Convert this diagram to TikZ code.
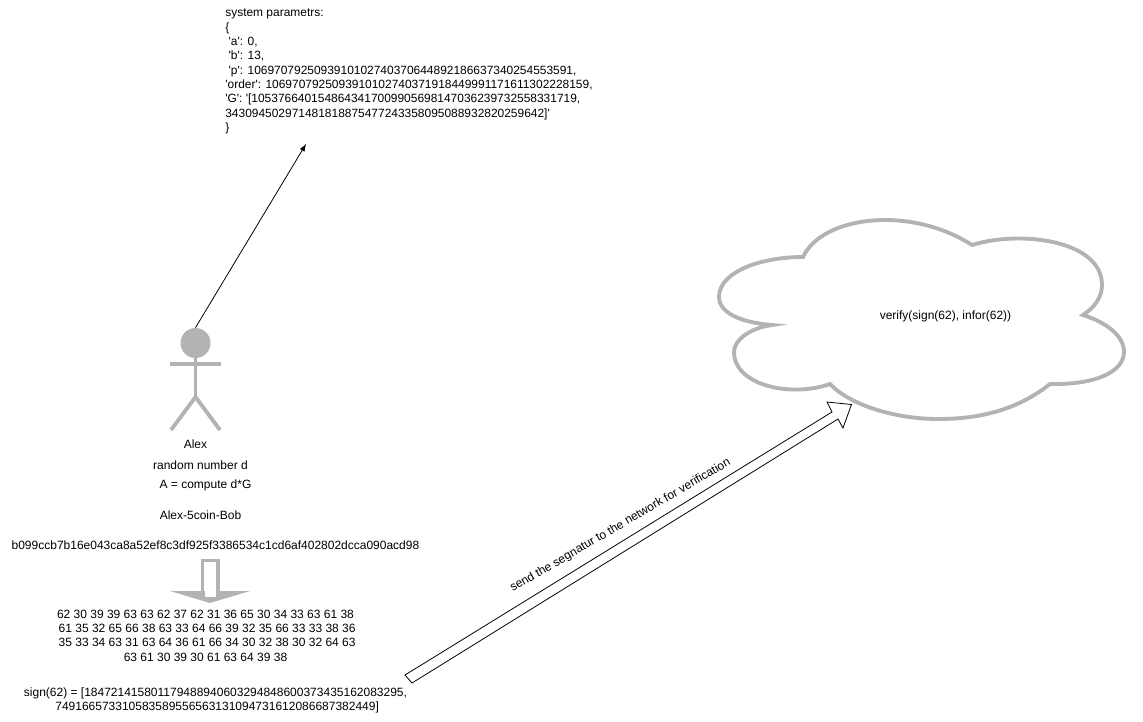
\documentclass[tikz,border=0pt]{standalone}
\usepackage{fontspec}
\setmainfont{Liberation Sans}
\usetikzlibrary{positioning,calc}
\definecolor{actorgray}{HTML}{B3B3B3}
\newcommand{\qt}{\textquotesingle}
\tikzset{
	label text/.style={inner sep=0pt, font=\fontsize{6.83}{8.15}\selectfont, align=center},
	left text/.style={label text, align=left, anchor=west, font=\fontsize{6.8}{8.15}\selectfont},
	actor line/.style={draw=actorgray, line width=2.2pt},
	thin arrow/.style={draw=black, line width=0.45pt, -latex},
	outline arrow/.style={draw=black, line width=0.45pt, fill=white, line join=miter}
}
\begin{document}
\begin{tikzpicture}[x=0.02cm,y=-0.02cm]
	\useasboundingbox (0,0) rectangle (1143,721);
	\node[left text] (params) at (225,71.5) {system parametrs:\\\{\\
		\ \qt a\qt: 0,\\
		\ \qt b\qt: 13,\\
		\ \qt p\qt: 1069707925093910102740370644892186637340254553591,\\
		\qt order\qt: 1069707925093910102740371918449991171611302228159,\\
		\qt G\qt: \qt[1053766401548643417009905698147036239732558331719,\\
		343094502971481818875477243358095088932820259642]\qt\\\}};
	\coordinate (paramsend) at (306,144);
	\node[circle, fill=actorgray, minimum size=0.6cm, inner sep=0pt] (head) at (195.5,343) {};
	\coordinate (armleft) at (170,364);
	\coordinate (armright) at (221,364);
	\coordinate (hip) at (195.5,397);
	\coordinate (footleft) at (171,430);
	\coordinate (footright) at (220,430);
	\draw[actor line] (head) -- (hip);
	\draw[actor line] (armleft) -- (armright);
	\draw[actor line] (footleft) -- (hip) -- (footright);
	\draw[thin arrow] (head.north) -- (paramsend);
	\node[label text] (alex) at (195.5,444) {Alex};
	\node[label text] (randomd) at (200.5,465) {random number d};
	\node[label text] (computea) at (205.5,485.5) {A = compute d*G};
	\node[label text] (message) at (200.5,515) {Alex-5coin-Bob};
	\node[label text] (hash) at (215.5,545) {b099ccb7b16e043ca8a52ef8c3df925f3386534c1cd6af402802dcca090acd98};
	\fill[actorgray] (170,591) -- (250,591) -- (210,603) -- cycle;
	\draw[actor line, fill=white] (202.5,591) -- (202.5,560.5) -- (218,560.5) -- (218,591);
	\fill[white] (204.5,589) rectangle (216,597);
	\node[label text] (hex) at (205.5,635.5) {62 30 39 39 63 63 62 37 62 31 36 65 30 34 33 63 61 38\\
		\ 61 35 32 65 66 38 63 33 64 66 39 32 35 66 33 33 38 36\\
		\ 35 33 34 63 31 63 64 36 61 66 34 30 32 38 30 32 64 63\\
		63 61 30 39 30 61 63 64 39 38};
	\node[label text] (sign) at (215.5,700.5) {sign(62) = [184721415801179488940603294848600373435162083295,\\
		\ 749166573310583589556563131094731612086687382449]};
	\draw[actor line, fill=white, line join=miter]
		(803,257) .. controls (822,216) and (910,205) .. (972,245)
		.. controls (1020,230) and (1102,240) .. (1102,285)
		.. controls (1102,297) and (1095,307) .. (1083,315)
		.. controls (1105,322) and (1124,335) .. (1124,352)
		.. controls (1124,372) and (1095,385) .. (1050,384)
		.. controls (1015,412) and (975,419) .. (938,419)
		.. controls (895,419) and (850,405) .. (830,384)
		.. controls (790,398) and (734,385) .. (734,352)
		.. controls (734,340) and (750,328) .. (772,325)
		.. controls (735,322) and (718,310) .. (719,296)
		.. controls (720,272) and (760,257) .. (803,257) -- cycle;
	\node[label text] (verify) at (945.5,316) {verify(sign(62), infor(62))};
	\coordinate (tailtop) at (405,675);
	\coordinate (tailbottom) at (412,683);
	\coordinate (tip) at (851.5,404.5);
	\draw[outline arrow] (tailtop) -- (832,412) -- (827,402) -- (tip) -- (843,428) -- (838,419) -- (tailbottom) -- cycle;
	\node[label text, rotate=30.3] (sendlabel) at (620.5,525.5) {send the segnatur to the network for verification};
\end{tikzpicture}
\end{document}
